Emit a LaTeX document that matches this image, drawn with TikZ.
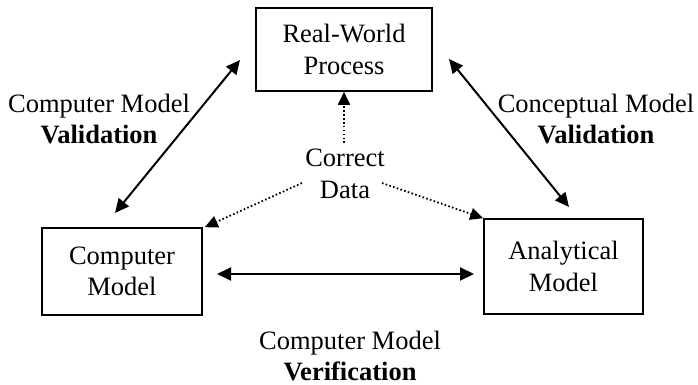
\documentclass[tikz,border=0pt]{standalone}
\usepackage{fontspec}
\setmainfont{Liberation Serif}
\usetikzlibrary{arrows.meta}
\tikzset{
  lbl/.style={align=center,inner sep=0pt,font=\fontsize{26.5}{31.5}\selectfont},
  boxnode/.style={draw,line width=1.6pt,align=center,inner sep=0pt,font=\fontsize{26.5}{31.5}\selectfont},
  solidarrow/.style={line width=2pt,{Triangle[length=14pt,width=13pt]}-{Triangle[length=14pt,width=13pt]}},
  dotarrow/.style={line width=1.8pt,dash pattern=on 1.6pt off 2.3pt,-{Triangle[length=13pt,width=12pt]}}
}
\begin{document}
\begin{tikzpicture}[x=1pt,y=-1pt]
\useasboundingbox (0,0) rectangle (698,385);
% boxes
\node[boxnode,minimum width=176pt,minimum height=83pt] (rw) at (344,49.5) {Real-World\\Process};
\node[boxnode,minimum width=160pt,minimum height=87pt] (cm) at (122,271.5) {Computer\\Model};
\node[boxnode,minimum width=159pt,minimum height=95pt] (am) at (563.5,266.5) {Analytical\\Model};
% labels
\node[lbl] (lv) at (99,119) {Computer Model\\\textbf{Validation}};
\node[lbl] (rv) at (596,119) {Conceptual Model\\\textbf{Validation}};
\node[lbl] (cd) at (345,174) {Correct\\Data};
\node[lbl] (bv) at (350,356) {Computer Model\\\textbf{Verification}};
% connector end points
\coordinate (l1) at (115,213);
\coordinate (l2) at (240,60);
\coordinate (r1) at (449,59);
\coordinate (r2) at (569,207);
\coordinate (h1) at (217,274);
\coordinate (h2) at (474,274);
\coordinate (d0) at (344,143);
\coordinate (dl) at (302,183);
\coordinate (dr) at (382,183);
% solid arrows
\draw[solidarrow] (l1) -- (l2);
\draw[solidarrow] (r1) -- (r2);
\draw[solidarrow] (h1) -- (h2);
% dotted arrows
\draw[dotarrow] (d0) -- (rw.south);
\draw[dotarrow] (dl) -- ([xshift=2pt]cm.north east);
\draw[dotarrow] (dr) -- (am.north west);
\end{tikzpicture}
\end{document}
